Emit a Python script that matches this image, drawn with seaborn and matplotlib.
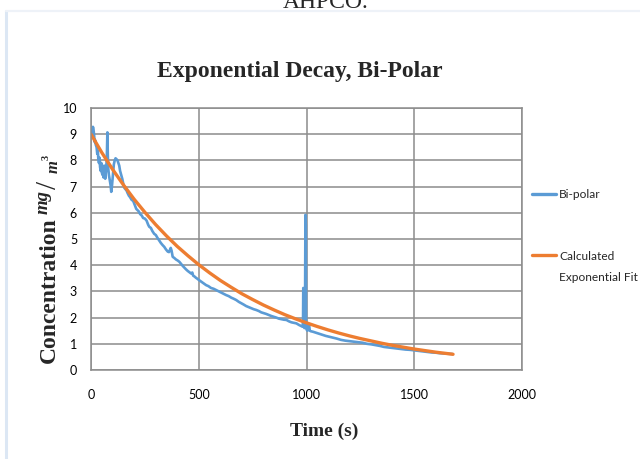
import numpy as np
import pandas as pd
import matplotlib
matplotlib.use("Agg")
import matplotlib.pyplot as plt
from matplotlib.lines import Line2D
from matplotlib.transforms import Affine2D
from matplotlib import font_manager
import seaborn as sns

# ---------------- data ----------------
bipolar_t = [0, 3, 6, 9, 11, 14, 17, 19, 22, 26, 29, 32, 34, 37, 40, 42, 45, 48, 50, 53,
             56, 58, 61, 63, 66, 69, 72, 74, 76, 78, 80, 83, 86, 88, 91, 94, 97, 100, 103, 106,
             110, 114, 119, 123, 127, 131, 135, 140, 145, 150, 155, 160, 165, 170, 176, 181, 188, 196, 203, 210,
             216, 222, 228, 235, 242, 250, 258, 265, 270, 278, 285, 293, 301, 308, 316, 324, 332, 340, 348, 356,
             362, 366, 370, 374, 379, 386, 394, 402, 410, 418, 426, 434, 441, 449, 457, 465, 470, 474, 480, 487,
             494, 500, 510, 520, 534, 545, 557, 569, 581, 593, 605, 616, 627, 639, 651, 662, 674, 686, 697, 708,
             720, 732, 744, 755, 767, 779, 790, 802, 813, 825, 837, 848, 860, 872, 883, 895, 907, 918, 930, 941,
             953, 965, 975, 982, 984, 985, 987, 988, 990, 993, 995, 997, 998, 1000, 1004, 1008, 1012, 1015, 1020, 1030,
             1045, 1060, 1075, 1090, 1106, 1120, 1140, 1160, 1180, 1200, 1220, 1240, 1261, 1280, 1300, 1320, 1340, 1360, 1380, 1400,
             1420, 1440, 1460, 1480, 1500, 1520, 1540, 1560, 1580, 1600, 1620, 1640, 1660, 1677]
bipolar_v = [8.95, 8.97, 9.15, 9.28, 9.22, 9.00, 8.70, 8.78, 8.60, 8.50, 8.25, 8.35, 8.05, 7.90, 8.10, 7.75, 7.60, 7.90, 7.55, 7.45,
             7.70, 7.35, 7.80, 7.50, 7.30, 7.55, 7.90, 8.30, 9.07, 8.20, 7.70, 7.45, 7.30, 7.20, 7.05, 6.80, 7.00, 7.30, 7.60, 7.85,
             8.00, 8.08, 8.04, 8.00, 7.90, 7.80, 7.60, 7.45, 7.30, 7.10, 6.95, 6.90, 6.85, 6.75, 6.65, 6.60, 6.50, 6.45, 6.30, 6.15,
             6.10, 6.05, 5.95, 5.90, 5.80, 5.78, 5.70, 5.55, 5.47, 5.42, 5.30, 5.20, 5.15, 5.05, 4.95, 4.85, 4.77, 4.70, 4.60, 4.52,
             4.50, 4.58, 4.66, 4.55, 4.32, 4.28, 4.22, 4.18, 4.13, 4.05, 3.97, 3.90, 3.84, 3.78, 3.73, 3.68, 3.72, 3.60, 3.57, 3.52,
             3.48, 3.44, 3.38, 3.32, 3.24, 3.20, 3.13, 3.10, 3.05, 3.00, 2.95, 2.90, 2.86, 2.82, 2.76, 2.72, 2.67, 2.60, 2.55, 2.50,
             2.44, 2.40, 2.36, 2.32, 2.29, 2.25, 2.20, 2.17, 2.14, 2.10, 2.06, 2.03, 2.00, 1.96, 1.94, 1.92, 1.91, 1.86, 1.82, 1.80,
             1.78, 1.72, 1.68, 1.65, 1.90, 3.13, 3.10, 1.80, 1.60, 1.75, 5.92, 5.50, 1.70, 1.55, 1.50, 1.60, 1.75, 1.50, 1.48, 1.46,
             1.42, 1.38, 1.34, 1.30, 1.27, 1.24, 1.20, 1.15, 1.12, 1.10, 1.08, 1.06, 1.04, 1.00, 0.98, 0.95, 0.92, 0.88, 0.86, 0.84,
             0.82, 0.80, 0.78, 0.77, 0.75, 0.73, 0.71, 0.69, 0.67, 0.66, 0.64, 0.63, 0.62, 0.61]

fit_t = [0, 50, 100, 150, 200, 250, 300, 350, 400, 450, 500, 550, 600, 650, 700, 750, 800, 850,
         900, 950, 1000, 1050, 1100, 1150, 1200, 1250, 1300, 1350, 1400, 1450, 1500, 1550, 1600, 1650, 1680]
fit_v = [9.00, 8.30, 7.66, 7.07, 6.52, 6.02, 5.55, 5.12, 4.72, 4.36, 4.02, 3.71, 3.42, 3.16, 2.91, 2.69, 2.48, 2.29,
         2.11, 1.95, 1.80, 1.66, 1.53, 1.41, 1.30, 1.20, 1.11, 1.02, 0.94, 0.87, 0.80, 0.74, 0.68, 0.63, 0.60]

series_names = ["Bi-polar", "Calculated\nExponential Fit"]
x_ticks = [0, 500, 1000, 1500, 2000]
y_ticks = list(range(0, 11))

df = pd.concat([
    pd.DataFrame({"t": bipolar_t, "c": bipolar_v, "series": series_names[0]}),
    pd.DataFrame({"t": fit_t, "c": fit_v, "series": series_names[1]}),
], ignore_index=True)

# ---------------- style ----------------
sns.set_theme(style="white")
installed = {f.name for f in font_manager.fontManager.ttflist}
narrow = "Liberation Sans Narrow" if "Liberation Sans Narrow" in installed else None
if narrow:
    ui_family = [narrow, "DejaVu Sans"]
    tick_size, leg_size = 10.5, 10.5
else:
    ui_family = ["Lato", "DejaVu Sans"]
    tick_size, leg_size = 9.0, 8.6
plt.rcParams["font.family"] = ui_family

fig = plt.figure(figsize=(6.4, 4.59), dpi=100)
ax = fig.add_axes([91 / 640, 1 - 370 / 459, (522 - 91) / 640, (370 - 108) / 459])

palette = {series_names[0]: "#5B9BD5", series_names[1]: "#ED7D31"}
sns.lineplot(data=df, x="t", y="c", hue="series", palette=palette, sort=False,
             estimator=None, ax=ax, linewidth=2.2)
for line, lw in zip(ax.lines, [1.9, 2.4]):
    line.set_linewidth(lw)

ax.set_xlim(0, 2000)
ax.set_ylim(0, 10)
ax.set_xticks(x_ticks)
ax.set_yticks(y_ticks)
ax.set_xticklabels([str(v) for v in x_ticks])
ax.set_yticklabels([str(v) for v in y_ticks])
ax.tick_params(axis="both", length=0, labelsize=tick_size, colors="#000000")
ax.tick_params(axis="x", pad=14)
ax.tick_params(axis="y", pad=10)
ax.grid(True, color="#8c8c8c", linewidth=1.1)
for s in ax.spines.values():
    s.set_color("#8c8c8c")
    s.set_linewidth(1.1)
ax.set_xlabel("")
ax.set_ylabel("")

# titles & labels
H = 459.0
W = 640.0
fig.text(300 / W, 1 - 72 / H, "Exponential Decay, Bi-Polar", ha="center", va="center",
         family="Liberation Serif", fontweight="bold", fontsize=17)
fig.text(324 / W, 1 - 431 / H, "Time (s)", ha="center", va="center",
         family="Liberation Serif", fontweight="bold", fontsize=14)

# y label: Concentration mg/m^3 built from pieces (rotated)
def vtext(xpx, ypx, s, size, style="normal", weight="bold"):
    fig.text(xpx / W, 1 - ypx / H, s, rotation=90, rotation_mode="anchor",
             ha="left", va="baseline", family="Liberation Serif",
             fontsize=size, fontstyle=style, fontweight=weight)

vtext(55, 363, "Concentration", 17)
vtext(48, 214, "mg", 13.5, style="italic")
vtext(56, 189, "/", 21, weight="normal")
vtext(58, 173, "m", 12, style="italic")
vtext(49, 160, "3", 7.5)

fig.text(326 / W, 1 - 8 / H, "AHPCO.", ha="center", va="baseline",
         family="Liberation Serif", fontsize=17)

# frame decoration
fig.add_artist(Line2D([6 / W, 6 / W], [0, 1 - 11 / H], color="#dce7f4", linewidth=2.2))
fig.add_artist(Line2D([6 / W, 1], [1 - 11 / H, 1 - 11 / H], color="#eef2f8", linewidth=1.6))

# legend
leg = ax.legend(loc="upper left", bbox_to_anchor=(527 / W, 1 - 184 / H),
                bbox_transform=fig.transFigure, frameon=False, fontsize=leg_size,
                handlelength=2.0, handletextpad=0.3, labelspacing=4.3, borderaxespad=0)
for t in leg.get_texts():
    t.set_linespacing(2.1)
lines = leg.get_lines()
for h in lines:
    h.set_linewidth(2.4)
lines[1].set_transform(lines[1].get_transform() + Affine2D().translate(0, 12))

fig.savefig("out.png", dpi=100)
